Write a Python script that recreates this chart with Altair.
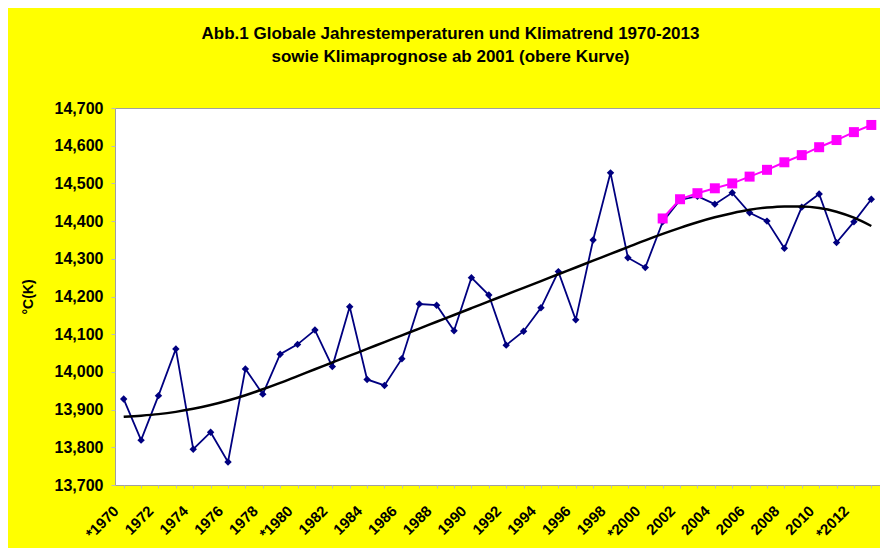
import json
import altair as alt
import pandas as pd

years = list(range(1970, 2014))
temps = [13.928, 13.819, 13.937, 14.061, 13.795, 13.840, 13.761, 14.008, 13.941, 14.047,
         14.073, 14.111, 14.014, 14.173, 13.980, 13.964, 14.035, 14.180, 14.177, 14.109,
         14.250, 14.204, 14.071, 14.108, 14.170, 14.266, 14.138, 14.350, 14.528, 14.303,
         14.277, 14.398, 14.456, 14.466, 14.445, 14.475, 14.422, 14.400, 14.328, 14.437,
         14.472, 14.343, 14.398, 14.458]
trend = [13.881, 13.884, 13.888, 13.894, 13.902, 13.912, 13.924, 13.938, 13.954, 13.971,
         13.989, 14.007, 14.025, 14.043, 14.061, 14.079, 14.097, 14.115, 14.133, 14.151,
         14.169, 14.187, 14.205, 14.223, 14.241, 14.259, 14.277, 14.295, 14.313, 14.331,
         14.349, 14.366, 14.382, 14.397, 14.410, 14.421, 14.430, 14.436, 14.439, 14.439,
         14.435, 14.425, 14.409, 14.387]
forecast_years = list(range(2001, 2014))
forecast = [14.407, 14.458, 14.474, 14.487, 14.500, 14.518, 14.536, 14.556, 14.575,
            14.596, 14.615, 14.636, 14.655]

x_labels = ["*1970", "", "1972", "", "1974", "", "1976", "", "1978", "",
            "*1980", "", "1982", "", "1984", "", "1986", "", "1988", "",
            "1990", "", "1992", "", "1994", "", "1996", "", "1998", "",
            "*2000", "", "2002", "", "2004", "", "2006", "", "2008", "",
            "2010", "", "*2012", ""]
y_ticks = [13.7, 13.8, 13.9, 14.0, 14.1, 14.2, 14.3, 14.4, 14.5, 14.6, 14.7]

title_lines = ["Abb.1 Globale Jahrestemperaturen und Klimatrend 1970-2013",
               "sowie Klimaprognose ab 2001 (obere Kurve)"]

obs = pd.DataFrame({"year": years, "value": temps})
tr = pd.DataFrame({"year": years, "value": trend})
fc = pd.DataFrame({"year": forecast_years, "value": forecast})

FONT = "Liberation Sans"
W, H = 765, 377

x_enc = alt.X("year:O", title=None,
              scale=alt.Scale(domain=years),
              axis=alt.Axis(labelExpr=json.dumps(x_labels) + "[datum.value - 1970]",
                            labelAngle=-45, labelAlign="right", labelBaseline="middle",
                            labelPadding=20, labelOffset=-8,
                            labelFont=FONT, labelFontSize=15, labelFontWeight="bold",
                            labelColor="black", tickColor="#bbbbbb", tickSize=3,
                            domain=False, labelOverlap=False))
y_enc = alt.Y("value:Q", title="°C(K)",
              scale=alt.Scale(domain=[13.7, 14.7], zero=False, nice=False),
              axis=alt.Axis(values=y_ticks,
                            labelExpr="replace(format(datum.value, '.3f'), '.', ',')",
                            labelFont=FONT, labelFontSize=16, labelFontWeight="bold",
                            labelColor="black", labelPadding=8, tickSize=4,
                            tickColor="#bbbbbb", domain=False, grid=False,
                            titleFont=FONT, titleFontSize=14, titleFontWeight="bold",
                            titleColor="black", titleX=-80, titleY=H / 2))

obs_layer = alt.Chart(obs).mark_line(
    color="#000080", strokeWidth=1.8,
    point=alt.OverlayMarkDef(shape="diamond", size=55, filled=True, color="#000080")
).encode(x=x_enc, y=y_enc)

trend_layer = alt.Chart(tr).mark_line(
    color="black", strokeWidth=2.5, interpolate="monotone"
).encode(x=x_enc, y=y_enc)

fc_layer = alt.Chart(fc).mark_line(
    color="#FF00FF", strokeWidth=2,
    point=alt.OverlayMarkDef(shape="square", size=100, filled=True, color="#FF00FF")
).encode(x=x_enc, y=y_enc)

chart = alt.layer(obs_layer, trend_layer, fc_layer).properties(
    width=W, height=H,
    autosize=alt.AutoSizeParams(type="none"),
    padding={"left": 107, "top": 100, "right": 0, "bottom": 63},
    background="#FFFF00",
    title=alt.TitleParams(text=title_lines, anchor="middle", frame="bounds",
                          font=FONT, fontSize=17, fontWeight="bold", color="black",
                          lineHeight=23, offset=34),
).configure_view(fill="white", stroke="#a0a0a0", strokeWidth=1)

chart.save("out.html", embed_options={"renderer": "svg", "actions": False})
